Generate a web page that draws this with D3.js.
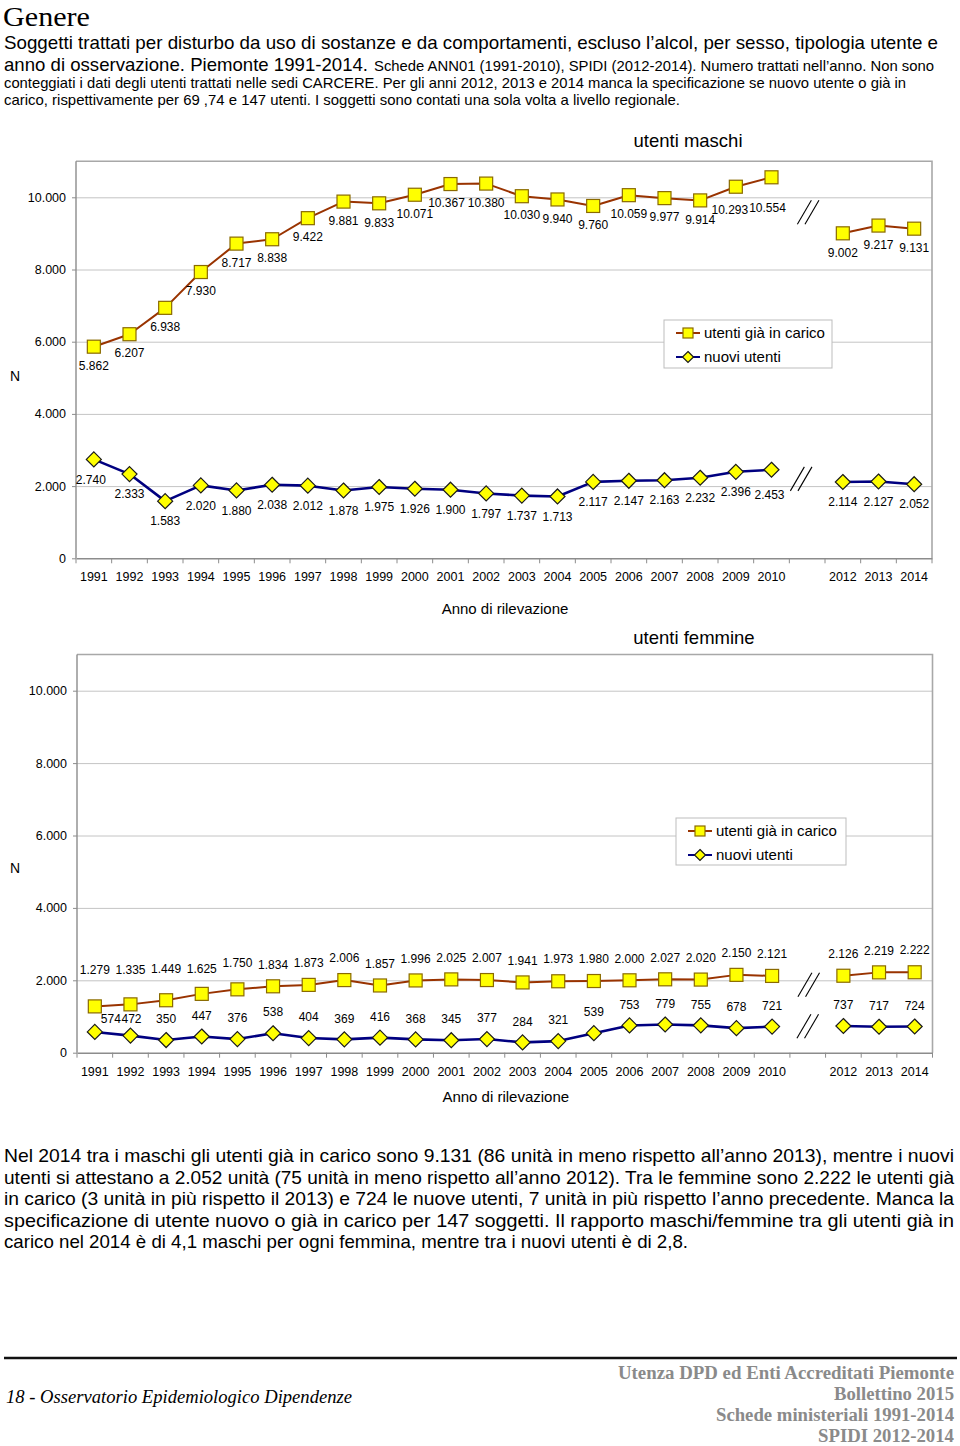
<!DOCTYPE html>
<html><head><meta charset="utf-8">
<script src="https://cdn.jsdelivr.net/npm/d3@7/dist/d3.min.js"></script>
<style>
html,body{margin:0;padding:0;background:#fff;}
svg{display:block;}
</style>
</head><body>
<script>
// ---------------- DATA ----------------
const categories = ["1991","1992","1993","1994","1995","1996","1997","1998","1999","2000",
  "2001","2002","2003","2004","2005","2006","2007","2008","2009","2010","2011","2012","2013","2014"];
const xTickLabels = ["1991","1992","1993","1994","1995","1996","1997","1998","1999","2000",
  "2001","2002","2003","2004","2005","2006","2007","2008","2009","2010","","2012","2013","2014"];
const yTicks = [0, 2000, 4000, 6000, 8000, 10000];
const yMax = 11000;

const maschiGiaInCarico = [5862, 6207, 6938, 7930, 8717, 8838, 9422, 9881, 9833, 10071,
  10367, 10380, 10030, 9940, 9760, 10059, 9977, 9914, 10293, 10554, null, 9002, 9217, 9131];
const maschiNuovi = [2740, 2333, 1583, 2020, 1880, 2038, 2012, 1878, 1975, 1926,
  1900, 1797, 1737, 1713, 2117, 2147, 2163, 2232, 2396, 2453, null, 2114, 2127, 2052];
const femmineGiaInCarico = [1279, 1335, 1449, 1625, 1750, 1834, 1873, 2006, 1857, 1996,
  2025, 2007, 1941, 1973, 1980, 2000, 2027, 2020, 2150, 2121, null, 2126, 2219, 2222];
const femmineNuovi = [574, 472, 350, 447, 376, 538, 404, 369, 416, 368,
  345, 377, 284, 321, 539, 753, 779, 755, 678, 721, null, 737, 717, 724];

const seriesNames = ["utenti già in carico", "nuovi utenti"];
const chartTitles = ["utenti maschi", "utenti femmine"];
const yAxisTitle = "N";
const xAxisTitle = "Anno di rilevazione";

// ---------------- SETUP ----------------
const W = 960, H = 1446;
const svg = d3.select("body").append("svg").attr("width", W).attr("height", H)
  .style("background", "#fff");
const SANS = "'Liberation Sans', Arial, Helvetica, sans-serif";
const NARROW = "'Liberation Sans Narrow', 'Arial Narrow', 'Liberation Sans', Arial, sans-serif";
const SERIF = "'Liberation Serif', 'Times New Roman', serif";

const locale = d3.formatLocale({decimal: ",", thousands: ".", grouping: [3], currency: ["", "€"]});
const fmt = locale.format(",d");

const GIA_LINE = "#993300", GIA_STROKE = "#8a6a00", NUOVI_LINE = "#000080", FILL = "#ffff00";

// ---------------- HEADER ----------------
function txt(x, y, s, size, family, opts = {}) {
  const t = svg.append("text").attr("x", x).attr("y", y).text(s)
    .style("font-family", family).style("font-size", size + "px").attr("fill", opts.fill || "#000");
  if (opts.len) t.attr("textLength", opts.len).attr("lengthAdjust", "spacingAndGlyphs");
  if (opts.anchor) t.attr("text-anchor", opts.anchor);
  if (opts.style) t.style("font-style", opts.style);
  if (opts.weight) t.style("font-weight", opts.weight);
  return t;
}
txt(3, 25.5, "Genere", 28, SERIF, {len: 87});
txt(4, 49, "Soggetti trattati per disturbo da uso di sostanze e da comportamenti, escluso l’alcol, per sesso, tipologia utente e", 19, NARROW, {len: 934});
txt(4, 71, "anno di osservazione. Piemonte 1991-2014.", 19, NARROW, {len: 364});
txt(374, 71, "Schede ANN01 (1991-2010), SPIDI (2012-2014). Numero trattati nell’anno. Non sono", 15, NARROW, {len: 560});
txt(4, 88, "conteggiati i dati degli utenti trattati nelle sedi CARCERE. Per gli anni 2012, 2013 e 2014 manca la specificazione se nuovo utente o già in", 15, NARROW, {len: 902});
txt(4, 105, "carico, rispettivamente per  69 ,74 e 147 utenti.  I soggetti sono contati una sola volta a livello regionale.", 15, NARROW, {len: 676});

// ---------------- CHART ----------------
function drawMarker(g, type, cx, cy, s) {
  if (type === "square") {
    g.append("rect").attr("x", cx - s / 2).attr("y", cy - s / 2).attr("width", s).attr("height", s)
      .attr("fill", FILL).attr("stroke", GIA_STROKE).attr("stroke-width", 1.2);
  } else {
    const r = s / 2;
    g.append("path").attr("d", `M${cx},${cy - r}L${cx + r},${cy}L${cx},${cy + r}L${cx - r},${cy}Z`)
      .attr("fill", FILL).attr("stroke", "#1a1a1a").attr("stroke-width", 1.2);
  }
}

function drawChart(cfg) {
  const g = svg.append("g");
  const x = d3.scaleBand().domain(categories).range([cfg.left, cfg.right]).padding(0);
  const y = d3.scaleLinear().domain([0, yMax]).range([cfg.bottom, cfg.top]);
  const w = cfg.right - cfg.left;
  const cx = d => x(d) + x.bandwidth() / 2;

  // gridlines
  g.append("g").attr("transform", `translate(${cfg.left},0)`)
    .call(d3.axisLeft(y).tickValues(yTicks.slice(1)).tickSize(-w).tickFormat(""))
    .call(a => a.select(".domain").remove())
    .call(a => a.selectAll("line").attr("stroke", "#c4c4c4").attr("stroke-width", 1));

  // plot border (top, right)
  g.append("path").attr("d", `M${cfg.left},${cfg.top}H${cfg.right}V${cfg.bottom}`)
    .attr("fill", "none").attr("stroke", "#a8a8a8").attr("stroke-width", 1.6);

  // y axis
  g.append("g").attr("transform", `translate(${cfg.left},0)`)
    .call(d3.axisLeft(y).tickValues(yTicks).tickSize(4).tickPadding(6).tickFormat(fmt))
    .call(a => a.select(".domain").attr("d", `M0,${cfg.top}V${cfg.bottom}`).attr("stroke", "#8c8c8c").attr("stroke-width", 1.4))
    .call(a => a.selectAll("line").attr("stroke", "#8c8c8c"))
    .call(a => a.selectAll("text").style("font-family", SANS).style("font-size", "12.5px").attr("fill", "#000"));

  // x axis
  g.append("g").attr("transform", `translate(0,${cfg.bottom})`)
    .call(d3.axisBottom(x).tickSize(0).tickPadding(14).tickFormat((d, i) => xTickLabels[i]))
    .call(a => a.select(".domain").attr("stroke", "#8c8c8c").attr("stroke-width", 1.4))
    .call(a => a.selectAll("text").style("font-family", SANS).style("font-size", "12.5px").attr("fill", "#000"));
  // boundary ticks
  g.append("g").selectAll("line").data(d3.range(categories.length + 1)).join("line")
    .attr("x1", i => cfg.left + i * x.step()).attr("x2", i => cfg.left + i * x.step())
    .attr("y1", cfg.bottom).attr("y2", cfg.bottom + 5)
    .attr("stroke", "#8c8c8c").attr("stroke-width", 1);

  // series
  cfg.series.forEach(s => {
    const pts = categories.map((c, i) => ({c, i, v: s.values[i]}));
    const line = d3.line().defined(d => d.v != null).x(d => cx(d.c)).y(d => y(d.v));
    g.append("path").datum(pts).attr("d", line).attr("fill", "none")
      .attr("stroke", s.type === "square" ? GIA_LINE : NUOVI_LINE).attr("stroke-width", s.type === "square" ? 2 : 2.6)
      .attr("stroke-linejoin", "round");
    const mg = g.append("g");
    pts.filter(d => d.v != null).forEach(d => drawMarker(mg, s.type, cx(d.c), y(d.v), s.type === "square" ? 13 : 15));
    const lg = g.append("g");
    pts.filter(d => d.v != null).forEach(d => {
      const n = (s.nudge && s.nudge[d.i]) || [0, 0];
      lg.append("text").attr("x", cx(d.c) + n[0]).attr("y", y(d.v) + s.labelOffset + n[1])
        .attr("dy", "0.35em").attr("text-anchor", "middle")
        .style("font-family", SANS).style("font-size", "12px").attr("fill", "#000")
        .text(fmt(d.v));
    });
    // break mark "//"
    const bx = cx("2011") + (s.breakNudge ? s.breakNudge[0] : 0);
    const by = (y(s.values[19]) + y(s.values[21])) / 2 + (s.breakNudge ? s.breakNudge[1] : 0);
    [-3.8, 3.8].forEach(o => {
      g.append("line").attr("x1", bx + o - 7).attr("y1", by + 12).attr("x2", bx + o + 7).attr("y2", by - 12)
        .attr("stroke", "#000").attr("stroke-width", 1.1);
    });
  });

  // title
  g.append("text").attr("x", cfg.titleX).attr("y", cfg.titleY).attr("text-anchor", "middle")
    .style("font-family", SANS).style("font-size", "18.5px").text(cfg.title);
  // axis titles
  g.append("text").attr("x", 15).attr("y", cfg.nY).attr("text-anchor", "middle")
    .style("font-family", SANS).style("font-size", "14px").text(yAxisTitle);
  g.append("text").attr("x", (cfg.left + cfg.right) / 2 + 1).attr("y", cfg.xTitleY).attr("text-anchor", "middle")
    .style("font-family", SANS).style("font-size", "15px").text(xAxisTitle);

  // legend
  const L = cfg.legend;
  g.append("rect").attr("x", L.x).attr("y", L.y).attr("width", L.w).attr("height", L.h)
    .attr("fill", "#fff").attr("stroke", "#bdbdbd").attr("stroke-width", 1);
  cfg.series.forEach((s, k) => {
    const ly = L.y + 13 + k * 24;
    g.append("line").attr("x1", L.x + 12).attr("x2", L.x + 36).attr("y1", ly).attr("y2", ly)
      .attr("stroke", s.type === "square" ? GIA_LINE : NUOVI_LINE).attr("stroke-width", 2);
    drawMarker(g, s.type, L.x + 24, ly, s.type === "square" ? 10 : 11);
    g.append("text").attr("x", L.x + 40).attr("y", ly).attr("dy", "0.35em")
      .style("font-family", SANS).style("font-size", "15px").text(seriesNames[k]);
  });
}

drawChart({
  left: 76, right: 932, top: 161.2, bottom: 558.3,
  title: chartTitles[0], titleX: 688, titleY: 147, nY: 381, xTitleY: 614,
  legend: {x: 664, y: 320, w: 168, h: 48},
  series: [
    {values: maschiGiaInCarico, type: "square", labelOffset: 19,
     nudge: {18: [-6, 4], 19: [-4, 11], 10: [-4, 0]}, breakNudge: [1, 7]},
    {values: maschiNuovi, type: "diamond", labelOffset: 20,
     nudge: {0: [-3, 0], 19: [-2, 5]}, breakNudge: [-6, 3]}
  ]
});

drawChart({
  left: 77, right: 932.5, top: 654.5, bottom: 1052.7,
  title: chartTitles[1], titleX: 694, titleY: 644, nY: 873, xTitleY: 1102,
  legend: {x: 676, y: 818, w: 170, h: 47},
  series: [
    {values: femmineGiaInCarico, type: "square", labelOffset: -22,
     nudge: {0: [0, -15], 1: [0, -13], 2: [0, -9], 3: [0, -3], 4: [0, -5]}, breakNudge: [1, 9]},
    {values: femmineNuovi, type: "diamond", labelOffset: -21,
     nudge: {0: [16, 8], 1: [1, 4]}, breakNudge: [0, 0]}
  ]
});

// ---------------- BODY TEXT ----------------
const para = [
  ["Nel 2014 tra i maschi gli utenti già in carico sono 9.131 (86 unità in meno rispetto all’anno 2013), mentre i nuovi", 950],
  ["utenti si attestano a 2.052 unità (75 unità in meno rispetto all’anno 2012). Tra le femmine sono 2.222 le utenti già", 950],
  ["in carico (3 unità in più rispetto il 2013) e 724 le nuove utenti, 7 unità in più rispetto l’anno precedente. Manca la", 950],
  ["specificazione di utente nuovo o già in carico per 147 soggetti. Il rapporto maschi/femmine tra gli utenti già in", 950],
  ["carico nel 2014 è di 4,1 maschi per ogni femmina, mentre tra i nuovi utenti è di 2,8.", 684]
];
para.forEach((p, i) => txt(4, 1162 + i * 21.6, p[0], 18.5, NARROW, {len: p[1]}));

// ---------------- FOOTER ----------------
svg.append("line").attr("x1", 4).attr("x2", 957).attr("y1", 1358).attr("y2", 1358)
  .attr("stroke", "#111").attr("stroke-width", 2.5);
txt(6, 1403, "18 - Osservatorio Epidemiologico Dipendenze", 19, SERIF, {style: "italic", len: 346});
const foot = [["Utenza DPD ed Enti Accreditati Piemonte", 336], ["Bollettino 2015", 120],
  ["Schede ministeriali 1991-2014", 238], ["SPIDI 2012-2014", 136]];
foot.forEach((f, i) => txt(954, 1379 + i * 21, f[0], 18.5, SERIF, {anchor: "end", len: f[1], fill: "#8a8a8a", weight: "bold"}));
</script>
</body></html>
